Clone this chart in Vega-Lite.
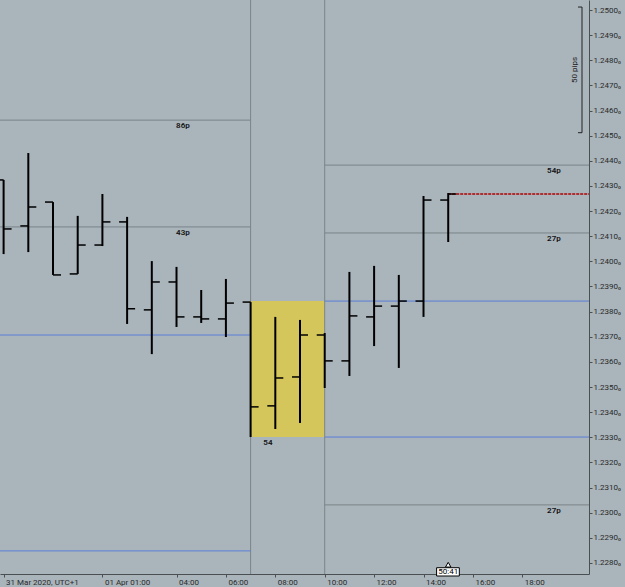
{
  "$schema": "https://vega.github.io/schema/vega-lite/v6.json",
  "width": 589,
  "height": 574,
  "autosize": {"type": "none"},
  "padding": {"left": 0, "top": 0, "right": 36, "bottom": 13},
  "background": "#a9b4bb",
  "config": {
    "view": {"stroke": null, "fill": "#a9b4bb"},
    "font": "Roboto",
    "axis": {"labelOverlap": false, "labelSeparation": 0, "grid": false, "title": null},
    "axisY": {"tickCount": 23, "labelOverlap": false}
  },
  "datasets": {
    "bars": [
      {"hour": 21, "o": 1.24324, "h": 1.24324, "l": 1.24029, "c": 1.24129},
      {"hour": 22, "o": 1.24141, "h": 1.24431, "l": 1.24037, "c": 1.24216},
      {"hour": 23, "o": 1.24236, "h": 1.24236, "l": 1.23946, "c": 1.23946},
      {"hour": 24, "o": 1.23950, "h": 1.24181, "l": 1.23950, "c": 1.24065},
      {"hour": 25, "o": 1.24065, "h": 1.24268, "l": 1.24061, "c": 1.24157},
      {"hour": 26, "o": 1.24157, "h": 1.24177, "l": 1.23751, "c": 1.23811},
      {"hour": 27, "o": 1.23807, "h": 1.24001, "l": 1.23631, "c": 1.23918},
      {"hour": 28, "o": 1.23918, "h": 1.23978, "l": 1.23739, "c": 1.23779},
      {"hour": 29, "o": 1.23779, "h": 1.23886, "l": 1.23755, "c": 1.23771},
      {"hour": 30, "o": 1.23771, "h": 1.23930, "l": 1.23699, "c": 1.23834},
      {"hour": 31, "o": 1.23838, "h": 1.23838, "l": 1.23301, "c": 1.23421},
      {"hour": 32, "o": 1.23425, "h": 1.23779, "l": 1.23333, "c": 1.23536},
      {"hour": 33, "o": 1.23540, "h": 1.23767, "l": 1.23357, "c": 1.23707},
      {"hour": 34, "o": 1.23707, "h": 1.23715, "l": 1.23496, "c": 1.23604},
      {"hour": 35, "o": 1.23604, "h": 1.23958, "l": 1.23544, "c": 1.23783},
      {"hour": 36, "o": 1.23779, "h": 1.23982, "l": 1.23663, "c": 1.23822},
      {"hour": 37, "o": 1.23822, "h": 1.23946, "l": 1.23576, "c": 1.23842},
      {"hour": 38, "o": 1.23842, "h": 1.24260, "l": 1.23779, "c": 1.24244},
      {"hour": 39, "o": 1.24244, "h": 1.24272, "l": 1.24077, "c": 1.24268}
    ],
    "zone": [{"x1": 31, "x2": 34, "y1": 1.23301, "y2": 1.23842}],
    "vlines": [{"x": 31}, {"x": 34}],
    "levels": [
      {"x1": 20.85, "x2": 31, "y": 1.24562, "k": "grey"},
      {"x1": 20.85, "x2": 31, "y": 1.24137, "k": "grey"},
      {"x1": 20.85, "x2": 31, "y": 1.23707, "k": "blue"},
      {"x1": 20.85, "x2": 31, "y": 1.22848, "k": "blue"},
      {"x1": 34, "x2": 44.7, "y": 1.24383, "k": "grey"},
      {"x1": 34, "x2": 44.7, "y": 1.24113, "k": "grey"},
      {"x1": 34, "x2": 44.7, "y": 1.23842, "k": "blue"},
      {"x1": 34, "x2": 44.7, "y": 1.23301, "k": "blue"},
      {"x1": 34, "x2": 44.7, "y": 1.23031, "k": "grey"}
    ],
    "price": [{"x1": 39, "x2": 44.7, "y": 1.24268}],
    "labels": [
      {"x": 28.26, "y": 1.24562, "t": "86p"},
      {"x": 28.26, "y": 1.24137, "t": "43p"},
      {"x": 43.28, "y": 1.24383, "t": "54p"},
      {"x": 43.28, "y": 1.24113, "t": "27p"},
      {"x": 43.28, "y": 1.23031, "t": "27p"},
      {"x": 31.7, "y": 1.23301, "t": "54"}
    ],
    "scalebar": [
      {"x1": 44.417, "x2": 44.417, "y1": 1.25012, "y2": 1.24512},
      {"x1": 44.255, "x2": 44.417, "y1": 1.25012, "y2": 1.25012},
      {"x1": 44.255, "x2": 44.417, "y1": 1.24512, "y2": 1.24512}
    ],
    "scaletext": [{"x": 44.14, "y": 1.24762, "t": "50 pips"}],
    "countdown": [{"x": 39, "x1": 38.53, "x2": 39.45, "y1": 1.22781, "y2": 1.22748, "ym": 1.227645, "tip": 1.22793, "t": "50:41"}]
  },
  "resolve": {"scale": {"x": "shared", "y": "shared"}},
  "layer": [
    {
      "data": {"name": "zone"},
      "mark": {"type": "rect", "color": "#d5c65c", "opacity": 1},
      "encoding": {
        "x": {"field": "x1", "type": "quantitative",
          "scale": {"domain": [20.854, 44.7], "nice": false, "zero": false},
          "axis": {
            "values": [21, 25, 28, 30, 32, 34, 36, 38, 40, 42],
            "labelExpr": "datum.value == 21 ? '31 Mar 2020, UTC+1' : datum.value == 25 ? '01 Apr 01:00' : (datum.value - 24 < 10 ? '0' : '') + (datum.value - 24) + ':00'",
            "title": null, "grid": false,
            "domainColor": "#4a4f52", "tickColor": "#4a4f52", "tickSize": 3,
            "labelFontSize": 8, "labelColor": "#2a2a2a", "labelAlign": "left",
            "labelPadding": 1, "labelOffset": 2, "labelFlush": false, "labelOverlap": false
          }},
        "x2": {"field": "x2"},
        "y": {"field": "y1", "type": "quantitative",
          "scale": {"domain": [1.22756, 1.2504], "nice": false, "zero": false},
          "axis": {
            "orient": "right",
            "values": [1.228, 1.229, 1.23, 1.231, 1.232, 1.233, 1.234, 1.235, 1.236, 1.237, 1.238, 1.239, 1.24, 1.241, 1.242, 1.243, 1.244, 1.245, 1.246, 1.247, 1.248, 1.249, 1.25],
            "tickCount": 23,
            "labelExpr": "format(datum.value, '.4f') + '₀'",
            "title": null, "grid": false,
            "domainColor": "#4a4f52", "tickColor": "#4a4f52", "tickSize": 3,
            "labelFontSize": 8, "labelColor": "#2a2a2a", "labelPadding": 1,
            "labelFlush": false, "labelOverlap": false, "labelSeparation": 0
          }},
        "y2": {"field": "y2"}
      }
    },
    {
      "data": {"name": "vlines"},
      "mark": {"type": "rule", "color": "#7a8489", "strokeWidth": 1},
      "encoding": {"x": {"field": "x", "type": "quantitative"}}
    },
    {
      "data": {"name": "levels"},
      "mark": {"type": "rule", "strokeWidth": 1},
      "encoding": {
        "x": {"field": "x1", "type": "quantitative"},
        "x2": {"field": "x2"},
        "y": {"field": "y", "type": "quantitative"},
        "color": {"field": "k", "type": "nominal", "legend": null,
          "scale": {"domain": ["grey", "blue"], "range": ["#7a8489", "#5a7fd8"]}}
      }
    },
    {
      "data": {"name": "price"},
      "mark": {"type": "rule", "color": "#b00000", "strokeWidth": 1.5, "strokeDash": [3, 1]},
      "encoding": {
        "x": {"field": "x1", "type": "quantitative"},
        "x2": {"field": "x2"},
        "y": {"field": "y", "type": "quantitative"}
      }
    },
    {
      "data": {"name": "bars"},
      "mark": {"type": "rule", "color": "#000000", "strokeWidth": 2},
      "encoding": {
        "x": {"field": "hour", "type": "quantitative"},
        "y": {"field": "l", "type": "quantitative"},
        "y2": {"field": "h"}
      }
    },
    {
      "data": {"name": "bars"},
      "mark": {"type": "tick", "orient": "horizontal", "color": "#000000", "size": 8, "thickness": 1.5, "xOffset": -4, "opacity": 1},
      "encoding": {
        "x": {"field": "hour", "type": "quantitative"},
        "y": {"field": "o", "type": "quantitative"}
      }
    },
    {
      "data": {"name": "bars"},
      "mark": {"type": "tick", "orient": "horizontal", "color": "#000000", "size": 8, "thickness": 1.5, "xOffset": 4, "opacity": 1},
      "encoding": {
        "x": {"field": "hour", "type": "quantitative"},
        "y": {"field": "c", "type": "quantitative"}
      }
    },
    {
      "data": {"name": "labels"},
      "mark": {"type": "text", "fontSize": 8, "fontWeight": 600, "color": "#111111", "align": "center", "baseline": "top", "dy": 2},
      "encoding": {
        "x": {"field": "x", "type": "quantitative"},
        "y": {"field": "y", "type": "quantitative"},
        "text": {"field": "t"}
      }
    },
    {
      "data": {"name": "scalebar"},
      "mark": {"type": "rule", "color": "#222222", "strokeWidth": 1},
      "encoding": {
        "x": {"field": "x1", "type": "quantitative"},
        "x2": {"field": "x2"},
        "y": {"field": "y1", "type": "quantitative"},
        "y2": {"field": "y2"}
      }
    },
    {
      "data": {"name": "scaletext"},
      "mark": {"type": "text", "fontSize": 8, "color": "#222222", "angle": 270, "align": "center", "baseline": "middle"},
      "encoding": {
        "x": {"field": "x", "type": "quantitative"},
        "y": {"field": "y", "type": "quantitative"},
        "text": {"field": "t"}
      }
    },
    {
      "data": {"name": "countdown"},
      "mark": {"type": "point", "shape": "triangle-up", "filled": true, "fill": "#ffffff", "stroke": "#000000", "strokeWidth": 1, "size": 30, "opacity": 1},
      "encoding": {
        "x": {"field": "x", "type": "quantitative"},
        "y": {"field": "tip", "type": "quantitative"}
      }
    },
    {
      "data": {"name": "countdown"},
      "mark": {"type": "rect", "fill": "#ffffff", "stroke": "#000000", "strokeWidth": 1},
      "encoding": {
        "x": {"field": "x1", "type": "quantitative"},
        "x2": {"field": "x2"},
        "y": {"field": "y1", "type": "quantitative"},
        "y2": {"field": "y2"}
      }
    },
    {
      "data": {"name": "countdown"},
      "mark": {"type": "text", "fontSize": 8, "color": "#000000", "align": "center", "baseline": "middle"},
      "encoding": {
        "x": {"field": "x", "type": "quantitative"},
        "y": {"field": "ym", "type": "quantitative"},
        "text": {"field": "t"}
      }
    }
  ]
}
